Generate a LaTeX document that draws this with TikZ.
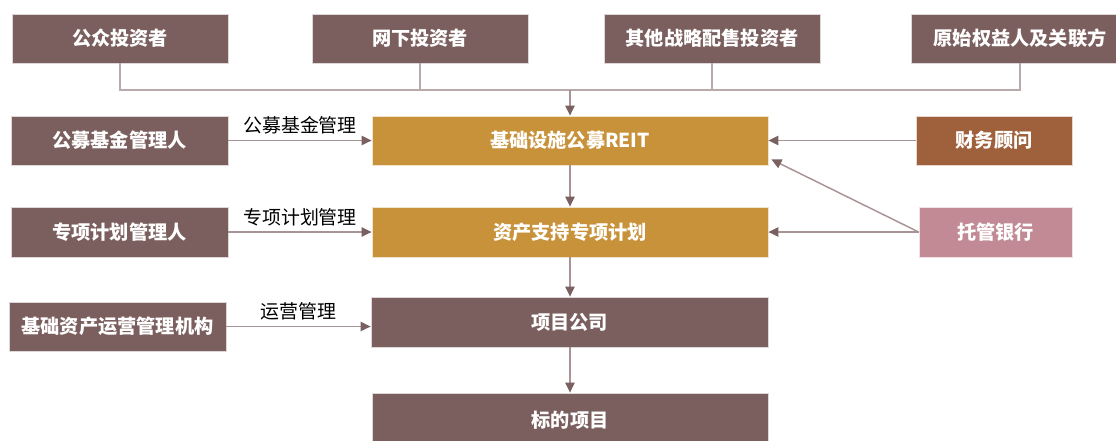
\documentclass[tikz,border=0pt]{standalone}
\usepackage{fontspec}
\setmainfont{Noto Sans CJK SC}
\usetikzlibrary{arrows.meta,calc}
\definecolor{boxbrown}{RGB}{123,95,94}
\definecolor{boxgold}{RGB}{200,146,58}
\definecolor{boxfa}{RGB}{158,97,59}
\definecolor{boxbank}{RGB}{194,138,148}
\definecolor{treeline}{RGB}{184,170,170}
\definecolor{arrline}{RGB}{168,148,148}
\definecolor{arrtip}{RGB}{122,96,96}
\tikzset{
  box/.style={rectangle, draw=white!75!#1, line width=0.6pt, fill=#1, text=white,
    font=\bfseries\fontsize{14.4pt}{16pt}\selectfont, inner sep=0pt},
  treeln/.style={draw=treeline, line width=1.5pt},
  arr/.style={draw=arrline, line width=1.1pt, -{Triangle[length=7.5pt,width=7pt,color=arrtip]}},
  lbl/.style={font=\fontsize{14.2pt}{16pt}\selectfont, text=black, inner sep=2pt}
}
\begin{document}
\begin{tikzpicture}[x=0.75pt,y=-0.75pt]
\useasboundingbox (0,0) rectangle (1116,440);
% row 1
\node[box=boxbrown, minimum width=162pt, minimum height=36.75pt] (pub) at (120,38.5) {公众投资者};
\node[box=boxbrown, minimum width=162pt, minimum height=36.75pt] (off) at (420,38.5) {网下投资者};
\node[box=boxbrown, minimum width=162pt, minimum height=36.75pt] (strat) at (712,38.5) {其他战略配售投资者};
\node[box=boxbrown, minimum width=163.5pt, minimum height=36.75pt] (orig) at (1020,38.5) {原始权益人及关联方};
% row 2
\node[box=boxbrown, minimum width=162.75pt, minimum height=36.75pt] (fundmgr) at (119.5,140.5) {公募基金管理人};
\node[box=boxgold, minimum width=297pt, minimum height=36.75pt] (reit) at (570,140.5) {基础设施公募REIT};
\node[box=boxfa, minimum width=117pt, minimum height=36.75pt] (fa) at (994,140.5) {财务顾问};
% row 3
\node[box=boxbrown, minimum width=162.75pt, minimum height=37.5pt] (spvmgr) at (119.5,232) {专项计划管理人};
\node[box=boxgold, minimum width=297pt, minimum height=37.5pt] (abs) at (570,232) {资产支持专项计划};
\node[box=boxbank, minimum width=114.75pt, minimum height=37.5pt] (bank) at (995.5,232) {托管银行};
% row 4
\node[box=boxbrown, minimum width=162.75pt, minimum height=36.75pt] (opmgr) at (117.5,326.5) {基础资产运营管理机构};
\node[box=boxbrown, minimum width=297.75pt, minimum height=37.5pt] (proj) at (569.5,322) {项目公司};
% row 5
\node[box=boxbrown, minimum width=297pt, minimum height=40.5pt] (target) at (570,420) {标的项目};
% tree
\coordinate (j) at (570,90);
\draw[treeln] (pub.south) |- (j);
\draw[treeln] (off.south) |- (j);
\draw[treeln] (strat.south) |- (j);
\draw[treeln] (orig.south) |- (j);
\draw[arr] (j) -- (reit.north);
% left arrows
\draw[arr] (fundmgr.east) -- (reit.west) node[lbl, midway, above=2pt] {公募基金管理};
\draw[arr] (spvmgr.east) -- (abs.west) node[lbl, midway, above=2pt] {专项计划管理};
\draw[arr] (opmgr.east) -- (opmgr.east -| proj.west) node[lbl, midway, above=2pt] {运营管理};
% vertical
\draw[arr] (reit.south) -- (abs.north);
\draw[arr] (abs.south) -- (abs.south |- proj.north);
\draw[arr] (abs.south |- proj.south) -- (abs.south |- target.north);
% right arrows
\draw[arr] (fa.west) -- (reit.east);
\draw[arr] (bank.west) -- (abs.east);
\coordinate (diagend) at ($(reit.south east)+(3,-6)$);
\draw[arr] (bank.west) -- (diagend);
\end{tikzpicture}
\end{document}
